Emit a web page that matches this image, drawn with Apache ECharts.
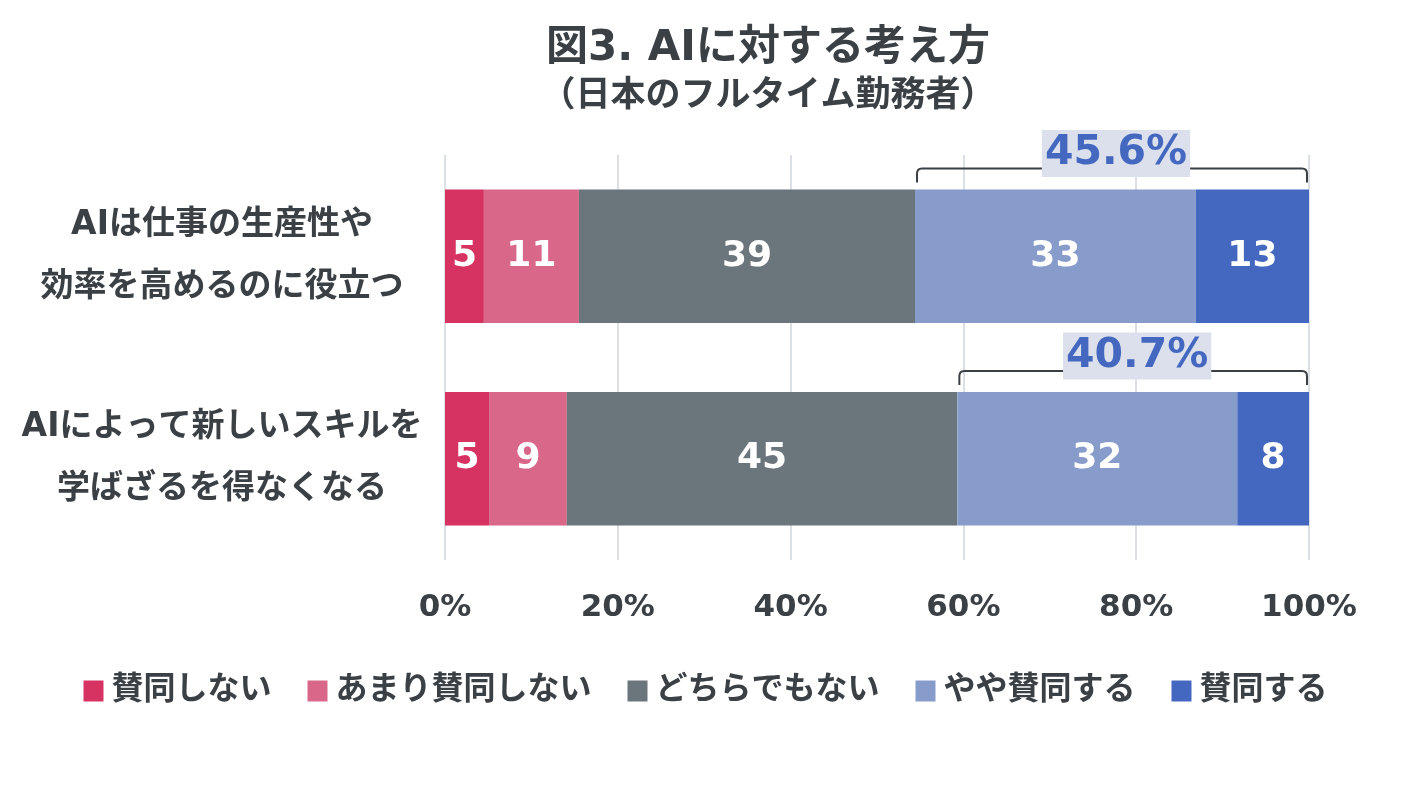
<!DOCTYPE html>
<html>
<head>
<meta charset="utf-8">
<script src="https://cdn.jsdelivr.net/npm/echarts@6/dist/echarts.min.js"></script>
<style>
  html, body { margin: 0; padding: 0; background: #ffffff; }
  #chart { width: 1411px; height: 785px; }
</style>
</head>
<body>
<div id="chart"></div>
<script>
const categories = ['AIは仕事の生産性や\n効率を高めるのに役立つ', 'AIによって新しいスキルを\n学ばざるを得なくなる'];
const seriesNames = ['賛同しない', 'あまり賛同しない', 'どちらでもない', 'やや賛同する', '賛同する'];
const disagree = [4.5, 5.1];        // 賛同しない
const ratherDisagree = [11.0, 9.0]; // あまり賛同しない
const neutral = [38.9, 45.2];       // どちらでもない
const ratherAgree = [32.5, 32.4];   // やや賛同する
const agree = [13.1, 8.3];          // 賛同する
const xTicks = [0, 20, 40, 60, 80, 100];

const FONT = "'DejaVu Sans', 'Noto Sans CJK JP', sans-serif";
const TEXT = '#3b4045';
const colors = ['#d63362', '#d9678a', '#6b757c', '#889ccc', '#4468bf'];
const values = [disagree, ratherDisagree, neutral, ratherAgree, agree];

//賛同の合計（ブラケット）
const bracketData = categories.map((c, i) => {
  const start = disagree[i] + ratherDisagree[i] + neutral[i];
  return [start, 100, i, (ratherAgree[i] + agree[i]).toFixed(1) + '%'];
});

const chart = echarts.init(document.getElementById('chart'));

const barSeries = seriesNames.map((name, k) => ({
  name,
  type: 'bar',
  stack: 'total',
  barWidth: '66%',
  itemStyle: { color: colors[k] },
  label: {
    show: true,
    color: '#ffffff',
    fontFamily: FONT,
    fontWeight: 'bold',
    fontSize: 36,
    formatter: p => Math.round(p.value)
  },
  data: values[k]
}));

const bracketSeries = {
  type: 'custom',
  z: 5,
  silent: true,
  encode: { x: [0, 1], y: 2 },
  data: bracketData,
  renderItem(params, api) {
    const p0 = api.coord([api.value(0), api.value(2)]);
    const p1 = api.coord([api.value(1), api.value(2)]);
    const band = api.size([0, 1])[1];
    const top = p0[1] - band * 0.33;
    const lineY = top - 21;
    const hookY = top - 7;
    const x0 = p0[0] + 2, x1 = p1[0] - 2, r = 5;
    const d = `M${x0} ${hookY} L${x0} ${lineY + r} Q${x0} ${lineY} ${x0 + r} ${lineY} ` +
      `L${x1 - r} ${lineY} Q${x1} ${lineY} ${x1} ${lineY + r} L${x1} ${hookY}`;
    return {
      type: 'group',
      children: [{
        type: 'path',
        shape: { pathData: d },
        style: { stroke: TEXT, lineWidth: 2, fill: null }
      }, {
        type: 'text',
        x: (x0 + x1) / 2 + 4,
        y: lineY - 15,
        style: {
          text: api.value(3),
          fill: '#4468bf',
          fontFamily: FONT,
          fontWeight: 'bold',
          fontSize: 41,
          align: 'center',
          verticalAlign: 'middle',
          backgroundColor: '#dce0ec',
          padding: [4, 3, 2, 3]
        }
      }]
    };
  }
};

chart.setOption({
  backgroundColor: '#ffffff',
  title: {
    text: '図3. AIに対する考え方',
    subtext: '（日本のフルタイム勤務者）',
    left: 763,
    top: 23,
    textAlign: 'center',
    itemGap: 9,
    textStyle: { fontFamily: FONT, fontWeight: 'bold', fontSize: 42, color: TEXT },
    subtextStyle: { fontFamily: FONT, fontWeight: 'bold', fontSize: 35, color: TEXT }
  },
  legend: {
    data: seriesNames,
    top: 670,
    left: 'center',
    icon: 'rect',
    itemWidth: 20,
    itemHeight: 21,
    itemGap: 36,
    textStyle: { fontFamily: FONT, fontWeight: 'bold', fontSize: 32, color: TEXT, padding: [0, 0, 0, 3] }
  },
  grid: { left: 445, right: 102, top: 155, bottom: 225 },
  xAxis: {
    type: 'value',
    min: 0,
    max: 100,
    interval: 20,
    axisLine: { show: false },
    axisTick: { show: false },
    splitLine: { show: true, lineStyle: { color: '#dcdfe3', width: 2 } },
    axisLabel: {
      margin: 32,
      fontFamily: FONT,
      fontWeight: 'bold',
      fontSize: 31,
      color: TEXT,
      formatter: v => xTicks.includes(v) ? v + '%' : ''
    }
  },
  yAxis: {
    type: 'category',
    inverse: true,
    data: categories,
    axisLine: { show: false },
    axisTick: { show: false },
    axisLabel: {
      margin: 223,
      fontFamily: FONT,
      fontWeight: 'bold',
      fontSize: 33,
      lineHeight: 62,
      color: TEXT,
      align: 'center'
    }
  },
  series: [...barSeries, bracketSeries]
});
</script>
</body>
</html>
